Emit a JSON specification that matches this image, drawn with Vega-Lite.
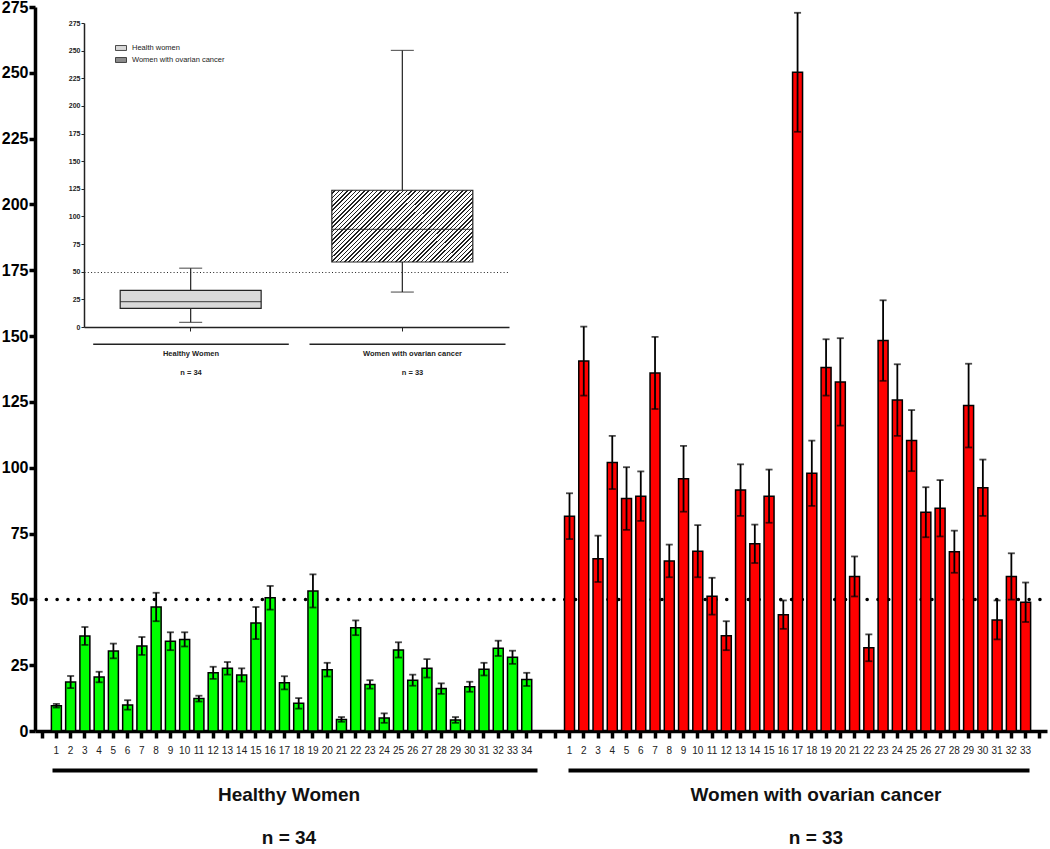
{
  "$schema": "https://vega.github.io/schema/vega-lite/v6.json",
  "autosize": {"type": "none"},
  "padding": {"left": 35, "top": 7, "right": 3, "bottom": 118},
  "width": 1012,
  "height": 724,
  "background": "white",
  "config": {"view": {"stroke": null}, "font": "Liberation Sans"},
  "layer": [
    {
      "data": {"values": [
        {"id":"H1","grp":"H","v":9.6,"e":0.7},{"id":"H2","grp":"H","v":18.6,"e":2.3},{"id":"H3","grp":"H","v":36.1,"e":3.4},
        {"id":"H4","grp":"H","v":20.5,"e":2.0},{"id":"H5","grp":"H","v":30.4,"e":2.8},{"id":"H6","grp":"H","v":9.9,"e":1.8},
        {"id":"H7","grp":"H","v":32.3,"e":3.4},{"id":"H8","grp":"H","v":47.1,"e":5.4},{"id":"H9","grp":"H","v":34.1,"e":3.4},
        {"id":"H10","grp":"H","v":34.8,"e":2.7},{"id":"H11","grp":"H","v":12.3,"e":1.1},{"id":"H12","grp":"H","v":22.1,"e":2.3},
        {"id":"H13","grp":"H","v":23.8,"e":2.4},{"id":"H14","grp":"H","v":21.3,"e":2.5},{"id":"H15","grp":"H","v":41.0,"e":6.1},
        {"id":"H16","grp":"H","v":50.6,"e":4.5},{"id":"H17","grp":"H","v":18.3,"e":2.5},{"id":"H18","grp":"H","v":10.5,"e":2.0},
        {"id":"H19","grp":"H","v":53.2,"e":6.3},{"id":"H20","grp":"H","v":23.3,"e":2.6},{"id":"H21","grp":"H","v":4.4,"e":0.9},
        {"id":"H22","grp":"H","v":39.2,"e":2.8},{"id":"H23","grp":"H","v":17.7,"e":1.6},{"id":"H24","grp":"H","v":4.9,"e":1.8},
        {"id":"H25","grp":"H","v":30.8,"e":2.9},{"id":"H26","grp":"H","v":19.3,"e":2.1},{"id":"H27","grp":"H","v":23.8,"e":3.5},
        {"id":"H28","grp":"H","v":16.1,"e":2.0},{"id":"H29","grp":"H","v":4.2,"e":1.1},{"id":"H30","grp":"H","v":16.8,"e":1.9},
        {"id":"H31","grp":"H","v":23.5,"e":2.4},{"id":"H32","grp":"H","v":31.4,"e":2.9},{"id":"H33","grp":"H","v":28.0,"e":2.5},
        {"id":"H34","grp":"H","v":19.6,"e":2.5},
        {"id":"C1","grp":"C","v":81.6,"e":8.7},{"id":"C2","grp":"C","v":140.5,"e":13.1},{"id":"C3","grp":"C","v":65.4,"e":8.8},
        {"id":"C4","grp":"C","v":102.0,"e":10.1},{"id":"C5","grp":"C","v":88.3,"e":11.9},{"id":"C6","grp":"C","v":89.2,"e":9.4},
        {"id":"C7","grp":"C","v":136.0,"e":13.7},{"id":"C8","grp":"C","v":64.6,"e":6.2},{"id":"C9","grp":"C","v":95.8,"e":12.5},
        {"id":"C10","grp":"C","v":68.3,"e":9.9},{"id":"C11","grp":"C","v":51.2,"e":7.0},{"id":"C12","grp":"C","v":36.2,"e":5.5},
        {"id":"C13","grp":"C","v":91.5,"e":9.8},{"id":"C14","grp":"C","v":71.1,"e":7.3},{"id":"C15","grp":"C","v":89.2,"e":10.1},
        {"id":"C16","grp":"C","v":44.2,"e":5.4},{"id":"C17","grp":"C","v":250.2,"e":22.6},{"id":"C18","grp":"C","v":97.9,"e":12.4},
        {"id":"C19","grp":"C","v":138.1,"e":10.7},{"id":"C20","grp":"C","v":132.6,"e":16.6},{"id":"C21","grp":"C","v":58.7,"e":7.6},
        {"id":"C22","grp":"C","v":31.6,"e":5.1},{"id":"C23","grp":"C","v":148.3,"e":15.3},{"id":"C24","grp":"C","v":125.7,"e":13.6},
        {"id":"C25","grp":"C","v":110.3,"e":11.6},{"id":"C26","grp":"C","v":83.1,"e":9.5},{"id":"C27","grp":"C","v":84.6,"e":10.7},
        {"id":"C28","grp":"C","v":68.1,"e":8.0},{"id":"C29","grp":"C","v":123.6,"e":15.9},{"id":"C30","grp":"C","v":92.4,"e":10.7},
        {"id":"C31","grp":"C","v":42.2,"e":7.4},{"id":"C32","grp":"C","v":58.7,"e":8.8},{"id":"C33","grp":"C","v":48.9,"e":7.5}
      ]},
      "encoding": {
        "x": {
          "field": "id", "type": "nominal", "sort": null,
          "scale": {
            "domain": ["e0","H1","H2","H3","H4","H5","H6","H7","H8","H9","H10","H11","H12","H13","H14","H15","H16","H17","H18","H19","H20","H21","H22","H23","H24","H25","H26","H27","H28","H29","H30","H31","H32","H33","H34","e35","e36","C1","C2","C3","C4","C5","C6","C7","C8","C9","C10","C11","C12","C13","C14","C15","C16","C17","C18","C19","C20","C21","C22","C23","C24","C25","C26","C27","C28","C29","C30","C31","C32","C33","e70"],
            "paddingInner": 0.3, "paddingOuter": 0.15
          },
          "axis": {
            "title": null, "orient": "bottom", "labelAngle": 0,
            "labelExpr": "indexof(datum.value,'e')===0 ? '' : substring(datum.value,1)",
            "labelFont": "Liberation Sans", "labelFontSize": 10, "labelColor": "#222", "labelPadding": 7,
            "tickSize": 7, "tickWidth": 3.5, "tickColor": "black",
            "domainWidth": 3.5, "domainColor": "black", "grid": false
          }
        }
      },
      "layer": [
        {
          "mark": {"type": "bar", "stroke": "black", "strokeWidth": 1.5},
          "encoding": {
            "y": {
              "field": "v", "type": "quantitative",
              "scale": {"domain": [0, 275], "nice": false, "zero": true},
              "axis": {
                "title": null, "orient": "left",
                "values": [0,25,50,75,100,125,150,175,200,225,250,275],
                "labelFont": "Liberation Sans", "labelFontWeight": "bold", "labelFontSize": 16, "labelColor": "black", "labelPadding": 1,
                "tickSize": 6, "tickWidth": 3.5, "tickColor": "black",
                "domainWidth": 3.5, "domainColor": "black",
                "grid": true, "gridColor": "black", "gridWidth": 3.5, "gridDash": [0.1, 10.7], "gridCap": "round",
                "gridOpacity": {"condition": {"test": "datum.value === 50", "value": 1}, "value": 0}
              }
            },
            "color": {"field": "grp", "type": "nominal", "scale": {"domain": ["H","C"], "range": ["#00ff00","#ff0000"]}, "legend": null}
          }
        },
        {
          "mark": {"type": "errorbar", "color": "black", "ticks": {"size": 7, "thickness": 1.8}, "rule": {"strokeWidth": 1.8}},
          "encoding": {
            "y": {"field": "v", "type": "quantitative", "title": null},
            "yError": {"field": "e"}
          }
        }
      ]
    },
    {
      "data": {"values": [{"g": "Healthy Women"}]},
      "mark": {"type": "text", "opacity": 0},
      "encoding": {
        "x": {
          "field": "g", "type": "nominal",
          "scale": {"domain": ["Healthy Women"], "range": [17, 502], "paddingInner": 0, "paddingOuter": 0},
          "axis": {
            "title": null, "orient": "bottom", "offset": 39, "ticks": false, "tickSize": 0,
            "domainWidth": 4, "domainColor": "black",
            "labelExpr": "[datum.value, 'n = 34']", "labelAngle": 0, "labelLimit": 600,
            "labelFont": "Liberation Sans", "labelFontWeight": "bold", "labelFontSize": 19, "labelColor": "#111",
            "labelPadding": 15, "labelLineHeight": 43, "labelOffset": -6
          }
        }
      }
    },
    {
      "data": {"values": [{"g": "Women with ovarian cancer"}]},
      "mark": {"type": "text", "opacity": 0},
      "encoding": {
        "x": {
          "field": "g", "type": "nominal",
          "scale": {"domain": ["Women with ovarian cancer"], "range": [533, 994], "paddingInner": 0, "paddingOuter": 0},
          "axis": {
            "title": null, "orient": "bottom", "offset": 39, "ticks": false, "tickSize": 0,
            "domainWidth": 4, "domainColor": "black",
            "labelExpr": "[datum.value, 'n = 33']", "labelAngle": 0, "labelLimit": 600,
            "labelFont": "Liberation Sans", "labelFontWeight": "bold", "labelFontSize": 19, "labelColor": "#111",
            "labelPadding": 15, "labelLineHeight": 43, "labelOffset": 17
          }
        }
      }
    },
    {
      "data": {"values": [
        {"grp": "Health women", "min": 4.2, "q1": 16.9, "med": 22.9, "q3": 33.2, "max": 53.2},
        {"grp": "Women with ovarian cancer", "min": 31.6, "q1": 58.8, "med": 88.4, "q3": 123.7, "max": 250.2}
      ]},
      "encoding": {
        "x": {
          "field": "grp", "type": "nominal", "sort": null,
          "scale": {"domain": ["Health women", "Women with ovarian cancer"], "range": [49, 474], "paddingInner": 0.334, "paddingOuter": 0.171},
          "axis": {
            "title": null, "orient": "bottom", "offset": -404, "labels": false,
            "tickSize": 4, "tickWidth": 1, "tickColor": "#222",
            "domainWidth": 1.5, "domainColor": "#222", "grid": false
          }
        }
      },
      "layer": [
        {
          "mark": {"type": "rule", "stroke": "#222", "strokeWidth": 1.2},
          "encoding": {
            "y": {
              "field": "min", "type": "quantitative",
              "scale": {"domain": [0, 275], "nice": false, "zero": true, "range": [320, 16]},
              "axis": {
                "title": null, "orient": "left", "offset": -49,
                "values": [0,25,50,75,100,125,150,175,200,225,250,275],
                "labelFont": "Liberation Sans", "labelFontWeight": "bold", "labelFontSize": 7, "labelColor": "#222", "labelPadding": 1,
                "tickSize": 3, "tickWidth": 1, "tickColor": "#222",
                "domainWidth": 1.5, "domainColor": "#222",
                "grid": true, "gridColor": "#222", "gridWidth": 1, "gridDash": [1, 2.3],
                "gridOpacity": {"condition": {"test": "datum.value === 50", "value": 1}, "value": 0}
              }
            },
            "y2": {"field": "max"}
          }
        },
        {
          "mark": {"type": "bar", "stroke": "#222", "strokeWidth": 1.2},
          "encoding": {
            "y": {"field": "q1", "type": "quantitative"},
            "y2": {"field": "q3"},
            "fill": {
              "condition": {
                "test": "datum.grp === 'Women with ovarian cancer'",
                "value": {"gradient": "linear", "x1": 0, "y1": 0, "x2": 1.198, "y2": 0.612, "stops": [
{"offset":0,"color":"#fff"},{"offset":0.013,"color":"#fff"},{"offset":0.013,"color":"#222"},{"offset":0.02,"color":"#222"},
{"offset":0.02,"color":"#fff"},{"offset":0.033,"color":"#fff"},{"offset":0.033,"color":"#222"},{"offset":0.04,"color":"#222"},
{"offset":0.04,"color":"#fff"},{"offset":0.053,"color":"#fff"},{"offset":0.053,"color":"#222"},{"offset":0.06,"color":"#222"},
{"offset":0.06,"color":"#fff"},{"offset":0.073,"color":"#fff"},{"offset":0.073,"color":"#222"},{"offset":0.08,"color":"#222"},
{"offset":0.08,"color":"#fff"},{"offset":0.093,"color":"#fff"},{"offset":0.093,"color":"#222"},{"offset":0.1,"color":"#222"},
{"offset":0.1,"color":"#fff"},{"offset":0.113,"color":"#fff"},{"offset":0.113,"color":"#222"},{"offset":0.12,"color":"#222"},
{"offset":0.12,"color":"#fff"},{"offset":0.133,"color":"#fff"},{"offset":0.133,"color":"#222"},{"offset":0.14,"color":"#222"},
{"offset":0.14,"color":"#fff"},{"offset":0.153,"color":"#fff"},{"offset":0.153,"color":"#222"},{"offset":0.16,"color":"#222"},
{"offset":0.16,"color":"#fff"},{"offset":0.173,"color":"#fff"},{"offset":0.173,"color":"#222"},{"offset":0.18,"color":"#222"},
{"offset":0.18,"color":"#fff"},{"offset":0.193,"color":"#fff"},{"offset":0.193,"color":"#222"},{"offset":0.2,"color":"#222"},
{"offset":0.2,"color":"#fff"},{"offset":0.213,"color":"#fff"},{"offset":0.213,"color":"#222"},{"offset":0.22,"color":"#222"},
{"offset":0.22,"color":"#fff"},{"offset":0.233,"color":"#fff"},{"offset":0.233,"color":"#222"},{"offset":0.24,"color":"#222"},
{"offset":0.24,"color":"#fff"},{"offset":0.253,"color":"#fff"},{"offset":0.253,"color":"#222"},{"offset":0.26,"color":"#222"},
{"offset":0.26,"color":"#fff"},{"offset":0.273,"color":"#fff"},{"offset":0.273,"color":"#222"},{"offset":0.28,"color":"#222"},
{"offset":0.28,"color":"#fff"},{"offset":0.293,"color":"#fff"},{"offset":0.293,"color":"#222"},{"offset":0.3,"color":"#222"},
{"offset":0.3,"color":"#fff"},{"offset":0.313,"color":"#fff"},{"offset":0.313,"color":"#222"},{"offset":0.32,"color":"#222"},
{"offset":0.32,"color":"#fff"},{"offset":0.333,"color":"#fff"},{"offset":0.333,"color":"#222"},{"offset":0.34,"color":"#222"},
{"offset":0.34,"color":"#fff"},{"offset":0.353,"color":"#fff"},{"offset":0.353,"color":"#222"},{"offset":0.36,"color":"#222"},
{"offset":0.36,"color":"#fff"},{"offset":0.373,"color":"#fff"},{"offset":0.373,"color":"#222"},{"offset":0.38,"color":"#222"},
{"offset":0.38,"color":"#fff"},{"offset":0.393,"color":"#fff"},{"offset":0.393,"color":"#222"},{"offset":0.4,"color":"#222"},
{"offset":0.4,"color":"#fff"},{"offset":0.413,"color":"#fff"},{"offset":0.413,"color":"#222"},{"offset":0.42,"color":"#222"},
{"offset":0.42,"color":"#fff"},{"offset":0.433,"color":"#fff"},{"offset":0.433,"color":"#222"},{"offset":0.44,"color":"#222"},
{"offset":0.44,"color":"#fff"},{"offset":0.453,"color":"#fff"},{"offset":0.453,"color":"#222"},{"offset":0.46,"color":"#222"},
{"offset":0.46,"color":"#fff"},{"offset":0.473,"color":"#fff"},{"offset":0.473,"color":"#222"},{"offset":0.48,"color":"#222"},
{"offset":0.48,"color":"#fff"},{"offset":0.493,"color":"#fff"},{"offset":0.493,"color":"#222"},{"offset":0.5,"color":"#222"},
{"offset":0.5,"color":"#fff"},{"offset":0.513,"color":"#fff"},{"offset":0.513,"color":"#222"},{"offset":0.52,"color":"#222"},
{"offset":0.52,"color":"#fff"},{"offset":0.533,"color":"#fff"},{"offset":0.533,"color":"#222"},{"offset":0.54,"color":"#222"},
{"offset":0.54,"color":"#fff"},{"offset":0.553,"color":"#fff"},{"offset":0.553,"color":"#222"},{"offset":0.56,"color":"#222"},
{"offset":0.56,"color":"#fff"},{"offset":0.573,"color":"#fff"},{"offset":0.573,"color":"#222"},{"offset":0.58,"color":"#222"},
{"offset":0.58,"color":"#fff"},{"offset":0.593,"color":"#fff"},{"offset":0.593,"color":"#222"},{"offset":0.6,"color":"#222"},
{"offset":0.6,"color":"#fff"},{"offset":0.613,"color":"#fff"},{"offset":0.613,"color":"#222"},{"offset":0.62,"color":"#222"},
{"offset":0.62,"color":"#fff"},{"offset":0.633,"color":"#fff"},{"offset":0.633,"color":"#222"},{"offset":0.64,"color":"#222"},
{"offset":0.64,"color":"#fff"},{"offset":0.653,"color":"#fff"},{"offset":0.653,"color":"#222"},{"offset":0.66,"color":"#222"},
{"offset":0.66,"color":"#fff"},{"offset":0.673,"color":"#fff"},{"offset":0.673,"color":"#222"},{"offset":0.68,"color":"#222"},
{"offset":0.68,"color":"#fff"},{"offset":0.693,"color":"#fff"},{"offset":0.693,"color":"#222"},{"offset":0.7,"color":"#222"},
{"offset":0.7,"color":"#fff"},{"offset":0.713,"color":"#fff"},{"offset":0.713,"color":"#222"},{"offset":0.72,"color":"#222"},
{"offset":0.72,"color":"#fff"},{"offset":0.733,"color":"#fff"},{"offset":0.733,"color":"#222"},{"offset":0.74,"color":"#222"},
{"offset":0.74,"color":"#fff"},{"offset":0.753,"color":"#fff"},{"offset":0.753,"color":"#222"},{"offset":0.76,"color":"#222"},
{"offset":0.76,"color":"#fff"},{"offset":0.773,"color":"#fff"},{"offset":0.773,"color":"#222"},{"offset":0.78,"color":"#222"},
{"offset":0.78,"color":"#fff"},{"offset":0.793,"color":"#fff"},{"offset":0.793,"color":"#222"},{"offset":0.8,"color":"#222"},
{"offset":0.8,"color":"#fff"},{"offset":0.813,"color":"#fff"},{"offset":0.813,"color":"#222"},{"offset":0.82,"color":"#222"},
{"offset":0.82,"color":"#fff"},{"offset":0.833,"color":"#fff"},{"offset":0.833,"color":"#222"},{"offset":0.84,"color":"#222"},
{"offset":0.84,"color":"#fff"},{"offset":0.853,"color":"#fff"},{"offset":0.853,"color":"#222"},{"offset":0.86,"color":"#222"},
{"offset":0.86,"color":"#fff"},{"offset":0.873,"color":"#fff"},{"offset":0.873,"color":"#222"},{"offset":0.88,"color":"#222"},
{"offset":0.88,"color":"#fff"},{"offset":0.893,"color":"#fff"},{"offset":0.893,"color":"#222"},{"offset":0.9,"color":"#222"},
{"offset":0.9,"color":"#fff"},{"offset":0.913,"color":"#fff"},{"offset":0.913,"color":"#222"},{"offset":0.92,"color":"#222"},
{"offset":0.92,"color":"#fff"},{"offset":0.933,"color":"#fff"},{"offset":0.933,"color":"#222"},{"offset":0.94,"color":"#222"},
{"offset":0.94,"color":"#fff"},{"offset":0.953,"color":"#fff"},{"offset":0.953,"color":"#222"},{"offset":0.96,"color":"#222"},
{"offset":0.96,"color":"#fff"},{"offset":0.973,"color":"#fff"},{"offset":0.973,"color":"#222"},{"offset":0.98,"color":"#222"},
{"offset":0.98,"color":"#fff"},{"offset":0.993,"color":"#fff"},{"offset":0.993,"color":"#222"},{"offset":1,"color":"#222"}
                ]}
              },
              "field": "grp", "type": "nominal",
              "scale": {"domain": ["Health women", "Women with ovarian cancer"], "range": ["#d9d9d9", "#8c8c8c"]},
              "legend": {
                "title": null, "orient": "none", "legendX": 80, "legendY": 35, "padding": 0,
                "labelFont": "Liberation Sans", "labelFontSize": 7.5, "labelColor": "#222", "labelOffset": 5,
                "symbolType": "M-1,-0.45L1,-0.45L1,0.45L-1,0.45Z", "symbolSize": 121,
                "symbolStrokeColor": "#222", "symbolStrokeWidth": 0.8, "rowPadding": 1
              }
            }
          }
        },
        {
          "mark": {"type": "tick", "color": "#222", "thickness": 1.2, "size": 141},
          "encoding": {"y": {"field": "med", "type": "quantitative"}}
        },
        {
          "mark": {"type": "tick", "color": "#222", "thickness": 1.2, "size": 23},
          "encoding": {"y": {"field": "min", "type": "quantitative"}}
        },
        {
          "mark": {"type": "tick", "color": "#222", "thickness": 1.2, "size": 23},
          "encoding": {"y": {"field": "max", "type": "quantitative"}}
        }
      ]
    },
    {
      "data": {"values": [{"g": "Healthy Women"}]},
      "mark": {"type": "text", "opacity": 0},
      "encoding": {
        "x": {
          "field": "g", "type": "nominal",
          "scale": {"domain": ["Healthy Women"], "range": [57.7, 253.3], "paddingInner": 0, "paddingOuter": 0},
          "axis": {
            "title": null, "orient": "bottom", "offset": -387.3, "ticks": false, "tickSize": 0,
            "domainWidth": 1.5, "domainColor": "#222",
            "labelExpr": "[datum.value, 'n = 34']", "labelAngle": 0, "labelLimit": 400,
            "labelFont": "Liberation Sans", "labelFontWeight": "bold", "labelFontSize": 7.5, "labelColor": "#222",
            "labelPadding": 5.5, "labelLineHeight": 19
          }
        }
      }
    },
    {
      "data": {"values": [{"g": "Women with ovarian cancer"}]},
      "mark": {"type": "text", "opacity": 0},
      "encoding": {
        "x": {
          "field": "g", "type": "nominal",
          "scale": {"domain": ["Women with ovarian cancer"], "range": [274, 470], "paddingInner": 0, "paddingOuter": 0},
          "axis": {
            "title": null, "orient": "bottom", "offset": -387.3, "ticks": false, "tickSize": 0,
            "domainWidth": 1.5, "domainColor": "#222",
            "labelExpr": "[datum.value, 'n = 33']", "labelAngle": 0, "labelLimit": 400,
            "labelFont": "Liberation Sans", "labelFontWeight": "bold", "labelFontSize": 7.5, "labelColor": "#222",
            "labelPadding": 5.5, "labelLineHeight": 19, "labelOffset": 5
          }
        }
      }
    }
  ],
  "resolve": {
    "scale": {"x": "independent", "y": "independent"},
    "axis": {"x": "independent", "y": "independent"}
  }
}
